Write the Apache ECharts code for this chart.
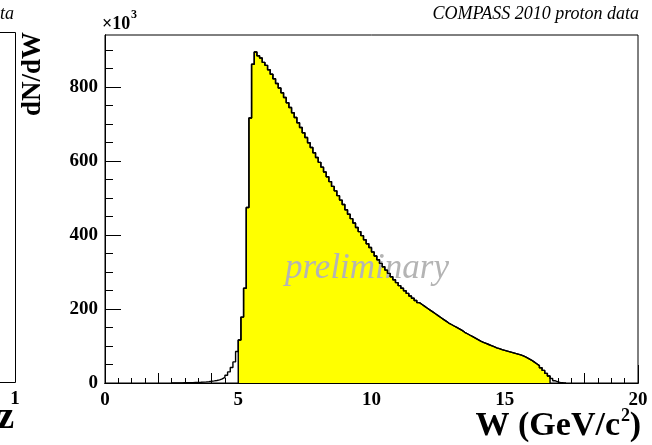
<!DOCTYPE html>
<html>
<head>
<meta charset="utf-8">
<script src="https://cdn.jsdelivr.net/npm/echarts@6/dist/echarts.min.js"></script>
<style>
html,body{margin:0;padding:0;background:#fff;}
#chart{width:652px;height:445px;}
</style>
</head>
<body>
<div id="chart"></div>
<script>
// ---- Data (dN/dW in units of 10^3 per 0.1 GeV/c^2 bin) ----
const W_START = 2.5;      // low edge of first bin
const BIN_WIDTH = 0.1;    // bin width in GeV/c^2
const counts = [
  // 2.5 - 2.9
  0.2, 0.3, 0.3, 0.4, 0.5,
  // 3.0 - 3.9
  0.6, 0.8, 1.0, 1.3, 1.6, 2.0, 2.5, 3.1, 3.8, 4.6,
  // 4.0 - 4.9
  5.6, 6.8, 8.3, 11, 15, 21, 30, 42, 57, 85,
  // 5.0 - 5.9
  116, 178, 256, 474, 716, 861, 894, 884, 878, 866,
  // 6.0 - 6.9
  858, 846, 834, 822, 809, 797, 784, 771, 757, 744,
  // 7.0 - 7.9
  730, 717, 703, 690, 676, 663, 649, 636, 622, 609,
  // 8.0 - 8.9
  596, 583, 570, 557, 544, 531, 519, 506, 494, 482,
  // 9.0 - 9.9
  468, 456, 444, 432, 420, 409, 398, 387, 376, 366,
  // 10.0 - 10.9
  354, 343, 333, 323, 314, 305, 296, 287, 279, 271,
  // 11.0 - 11.9
  263, 256, 249, 242, 235, 229, 223, 217, 212, 207,
  // 12.0 - 12.9
  202, 197, 192, 187, 182, 177, 172, 167, 162, 158,
  // 13.0 - 13.9
  154, 150, 146, 142, 137, 133, 129, 125, 121, 117,
  // 14.0 - 14.9
  113, 110, 107, 104, 101, 98, 95, 93, 90, 88,
  // 15.0 - 15.9
  86, 84, 82, 80, 78, 76, 73, 70, 66, 62,
  // 16.0 - 16.9
  57, 52, 47, 41, 34, 26, 19, 12, 6, 3,
  // 17.0 - 17.2
  1, 0.5, 0.2
];
const FILL_FROM = 5.0;   // yellow (selected) range
const FILL_TO = 16.7;

// axis ticks / labels
const X_MIN = 0, X_MAX = 20, Y_MIN = 0, Y_MAX = 940;
const xLabelValues = [0, 5, 10, 15, 20];
const xMidTickValues = [2, 4, 6, 8, 12, 14, 16, 18];
const xMinorTickValues = [];
for (let k = 1; k < 40; k++) xMinorTickValues.push(k * 0.5);
const yLabelValues = [0, 200, 400, 600, 800];
const yMinorTickValues = [];
for (let k = 1; k * 50 <= 900; k++) yMinorTickValues.push(k * 50);

// ---- build step data ----
const r = v => Math.round(v * 1000) / 1000;
const outline = counts.map((v, i) => [r(W_START + i * BIN_WIDTH), v]);
outline.push([r(W_START + counts.length * BIN_WIDTH), 0]);
const filled = [[FILL_FROM, 0]];
counts.forEach((v, i) => {
  const lo = r(W_START + i * BIN_WIDTH);
  if (lo >= FILL_FROM - 1e-6 && lo < FILL_TO - 1e-6) filled.push([lo, v]);
});
filled.push([FILL_TO, 0]);

const SERIF = '"Liberation Serif","DejaVu Serif",serif';
const chart = echarts.init(document.getElementById('chart'), null, {renderer: 'canvas'});

function xAxisDef(ticks, len, showLabel) {
  return {
    type: 'value', min: X_MIN, max: X_MAX, gridIndex: 0, position: 'bottom', offset: 0,
    axisLine: {show: true, lineStyle: {color: '#000', width: 1}},
    axisTick: {show: true, inside: true, length: len, customValues: ticks, lineStyle: {color: '#000', width: 1}},
    axisLabel: showLabel ? {show: true, customValues: xLabelValues, color: '#000', margin: 8,
      fontFamily: SERIF, fontWeight: 'bold', fontSize: 19} : {show: false},
    splitLine: {show: false}, minorTick: {show: false}
  };
}
function yAxisDef(ticks, len, showLabel) {
  return {
    type: 'value', min: Y_MIN, max: Y_MAX, gridIndex: 0, position: 'left', offset: 0,
    axisLine: {show: true, lineStyle: {color: '#000', width: 1}},
    axisTick: {show: true, inside: true, length: len, customValues: ticks, lineStyle: {color: '#000', width: 1}},
    axisLabel: showLabel ? {show: true, customValues: yLabelValues, color: '#000', margin: 7,
      fontFamily: SERIF, fontWeight: 'bold', fontSize: 19} : {show: false},
    splitLine: {show: false}, minorTick: {show: false}
  };
}

const option = {
  animation: false,
  backgroundColor: '#fff',
  grid: {left: 105, right: 14, top: 35, bottom: 62, show: true, borderColor: '#000', borderWidth: 1, backgroundColor: 'transparent'},
  xAxis: [
    xAxisDef(xLabelValues, 18, true),
    xAxisDef(xMidTickValues, 10, false),
    xAxisDef(xMinorTickValues, 5, false)
  ],
  yAxis: [
    yAxisDef(yLabelValues, 16, true),
    yAxisDef(yMinorTickValues, 8, false)
  ],
  series: [
    {
      type: 'line', step: 'end', data: filled, xAxisIndex: 0, yAxisIndex: 0,
      symbol: 'none', lineStyle: {color: '#000', width: 1.4},
      areaStyle: {color: '#ffff00', opacity: 1}, z: 2
    },
    {
      type: 'line', step: 'end', data: outline, xAxisIndex: 0, yAxisIndex: 0,
      symbol: 'none', lineStyle: {color: '#000', width: 1.4}, z: 4
    }
  ],
  graphic: [
    // preliminary watermark
    {type: 'text', x: 367, y: 269, z: 3, style: {text: 'preliminary', font: 'italic 35px ' + SERIF,
      fill: '#b4b4b4', textAlign: 'center', textVerticalAlign: 'middle'}},
    // top-right caption
    {type: 'text', x: 639, y: 14, style: {text: 'COMPASS 2010 proton data', font: 'italic 18px ' + SERIF,
      fill: '#000', textAlign: 'right', textVerticalAlign: 'middle'}},
    // x10^3 multiplier
    {type: 'text', x: 102, y: 24, style: {text: '\u00d710', font: 'bold 18px ' + SERIF,
      fill: '#000', textAlign: 'left', textVerticalAlign: 'middle'}},
    {type: 'text', x: 131, y: 15, style: {text: '3', font: 'bold 12px ' + SERIF,
      fill: '#000', textAlign: 'left', textVerticalAlign: 'middle'}},
    // y title
    {type: 'text', x: 33, y: 32, rotation: Math.PI / 2, style: {text: 'dN/dW', font: 'bold 27px ' + SERIF,
      fill: '#000', textAlign: 'right', textVerticalAlign: 'middle'}},
    // x title: W (GeV/c^2)
    {type: 'text', x: 641, y: 426, style: {text: ')', font: 'bold 34px ' + SERIF,
      fill: '#000', textAlign: 'right', textVerticalAlign: 'middle'}},
    {type: 'text', x: 630, y: 416, style: {text: '2', font: 'bold 18px ' + SERIF,
      fill: '#000', textAlign: 'right', textVerticalAlign: 'middle'}},
    {type: 'text', x: 620, y: 426, style: {text: 'W (GeV/c', font: 'bold 34px ' + SERIF,
      fill: '#000', textAlign: 'right', textVerticalAlign: 'middle'}},
    // pieces of neighbouring (left) panel
    {type: 'text', x: 14, y: 14, style: {text: 'proton data', font: 'italic 18px ' + SERIF,
      fill: '#000', textAlign: 'right', textVerticalAlign: 'middle'}},
    {type: 'polyline', shape: {points: [[0, 32.5], [15.5, 32.5], [15.5, 382.5], [0, 382.5]]},
      style: {stroke: '#000', lineWidth: 1, fill: null}},
    {type: 'text', x: 15, y: 399, style: {text: '1', font: 'bold 19px ' + SERIF,
      fill: '#000', textAlign: 'center', textVerticalAlign: 'middle'}},
    {type: 'text', x: 14, y: 437, style: {text: 'z', font: 'bold 38px ' + SERIF,
      fill: '#000', textAlign: 'right', textVerticalAlign: 'bottom'}}
  ]
};
chart.setOption(option);
</script>
</body>
</html>
